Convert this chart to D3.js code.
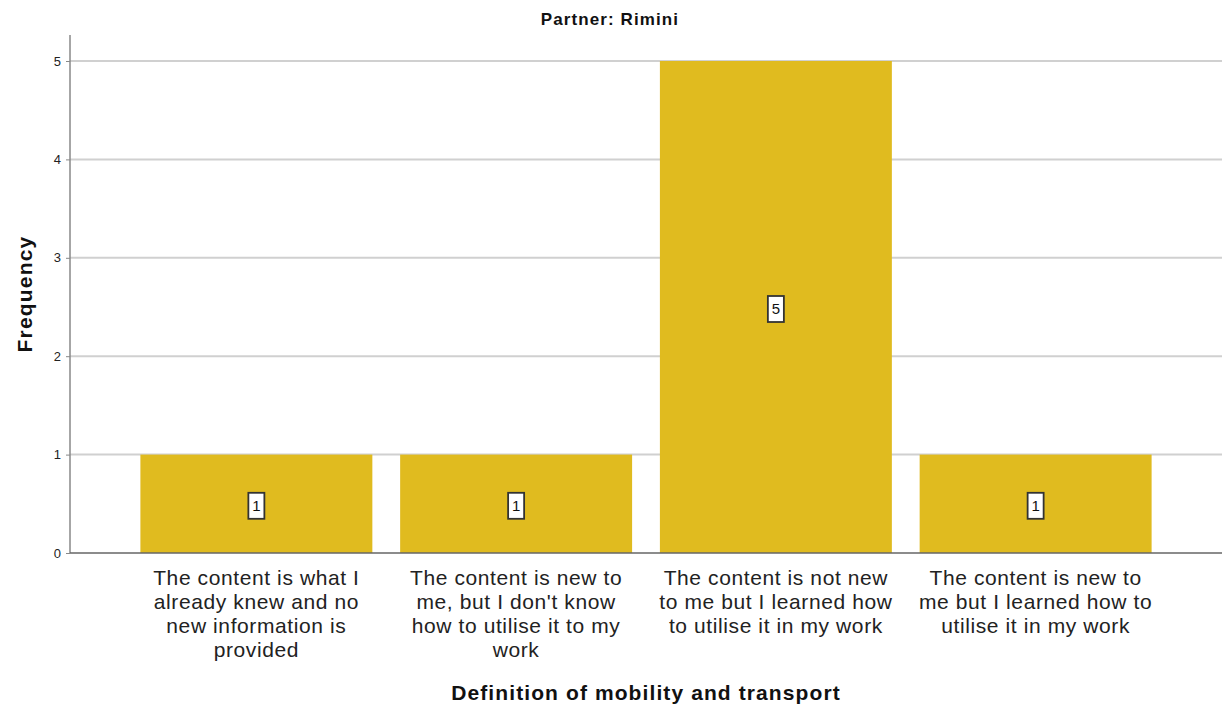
<!DOCTYPE html>
<html><head><meta charset="utf-8">
<script src="https://cdn.jsdelivr.net/npm/d3@7"></script>
<style>body{margin:0;background:#fff}svg{display:block}</style>
</head><body>
<svg id="c" width="1224" height="709"></svg>
<script>
const categories = ["c1","c2","c3","c4"];
const categoryLabels = [
  ["The content is what I","already knew and no","new information is","provided"],
  ["The content is new to","me, but I don't know","how to utilise it to my","work"],
  ["The content is not new","to me but I learned how","to utilise it in my work"],
  ["The content is new to","me but I learned how to","utilise it in my work"]
];
const frequencies = [1,1,5,1];
const yTicks = [0,1,2,3,4,5];
const chartTitle = "Partner: Rimini";
const xTitle = "Definition of mobility and transport";
const yTitle = "Frequency";

const FONT = "Liberation Sans, Arial, sans-serif";
const svg = d3.select("#c");
const L = 70, R = 1222, T = 35, B = 553;
const x = d3.scaleBand().domain(categories).range([L, R]).paddingInner(0.107).paddingOuter(0.271);
const y = d3.scaleLinear().domain([0, 5]).range([B, 61]);

// gridlines
svg.append("g").selectAll("line").data(yTicks.filter(d=>d>0)).join("line")
  .attr("x1", L).attr("x2", R).attr("y1", d=>y(d)).attr("y2", d=>y(d))
  .attr("stroke", "#d0d0d0").attr("stroke-width", 2);

// bars
svg.append("g").selectAll("rect").data(frequencies).join("rect")
  .attr("x", (d,i)=>x(categories[i])).attr("width", x.bandwidth())
  .attr("y", d=>y(d)).attr("height", d=>B - y(d))
  .attr("fill", "#e0bb1f");

// y axis
const ya = svg.append("g").attr("transform", `translate(${L},0)`)
  .call(d3.axisLeft(y).tickValues(yTicks).tickSize(4).tickFormat(d3.format("d")));
ya.select(".domain").remove();
ya.selectAll(".tick line").attr("stroke", "#888");
ya.selectAll(".tick text").attr("font-family", FONT).attr("font-size", 13).attr("fill", "#222").attr("x", -9);
svg.append("line").attr("x1", L).attr("x2", L).attr("y1", T).attr("y2", B).attr("stroke", "#888").attr("stroke-width", 1.5);
svg.append("line").attr("x1", L).attr("x2", R).attr("y1", B).attr("y2", B).attr("stroke", "#666").attr("stroke-width", 1.5);

// value labels
const lg = svg.append("g").selectAll("g").data(frequencies).join("g")
  .attr("transform", (d,i)=>`translate(${x(categories[i]) + x.bandwidth()/2},${y(d/2) + 2})`);
lg.append("rect").attr("x", -8).attr("y", -13).attr("width", 16).attr("height", 26)
  .attr("fill", "#fff").attr("stroke", "#333").attr("stroke-width", 1.8);
lg.append("text").text(d=>d).attr("text-anchor", "middle").attr("dy", "0.36em")
  .attr("font-family", FONT).attr("font-size", 15).attr("fill", "#111");

// category labels
const cl = svg.append("g").selectAll("text").data(categoryLabels).join("text")
  .attr("x", (d,i)=>x(categories[i]) + x.bandwidth()/2)
  .attr("y", 585).attr("text-anchor", "middle")
  .attr("font-family", FONT).attr("font-size", 21).attr("letter-spacing", 0.6).attr("fill", "#222");
cl.each(function(lines){
  const t = d3.select(this);
  lines.forEach((ln, k)=>{
    t.append("tspan").attr("x", t.attr("x")).attr("dy", k===0 ? 0 : 24).text(ln);
  });
});

// titles
svg.append("text").attr("x", 610).attr("y", 25).attr("text-anchor", "middle")
  .attr("font-family", FONT).attr("font-weight", "bold").attr("font-size", 17).attr("letter-spacing", 1.1).attr("fill", "#111").text(chartTitle);
svg.append("text").attr("x", (L+R)/2).attr("y", 700).attr("text-anchor", "middle")
  .attr("font-family", FONT).attr("font-weight", "bold").attr("font-size", 21).attr("letter-spacing", 1.1).attr("fill", "#111").text(xTitle);
svg.append("text").attr("transform", `translate(32,294) rotate(-90)`).attr("text-anchor", "middle")
  .attr("font-family", FONT).attr("font-weight", "bold").attr("font-size", 21).attr("letter-spacing", 1.2).attr("fill", "#111").text(yTitle);
</script>
</body></html>
